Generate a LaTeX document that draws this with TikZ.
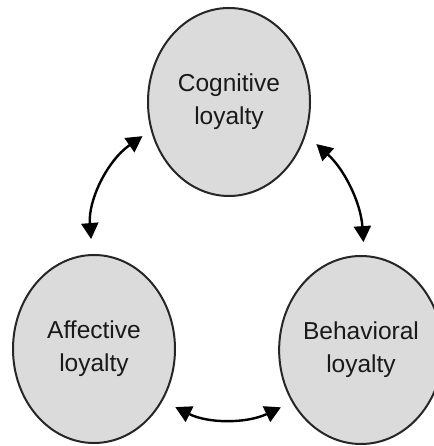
\documentclass[tikz,border=0pt]{standalone}
\usepackage{fontspec}
\setmainfont{Liberation Sans}
\usetikzlibrary{shapes.geometric,arrows.meta}
\begin{document}
\begin{tikzpicture}[
  loyal/.style={ellipse,draw=black!85,line width=2pt,fill=black!14,minimum width=162pt,minimum height=188pt,inner sep=0pt,align=center,font=\fontsize{24.5}{33}\selectfont,text=black!90},
  headtip/.tip={Triangle[length=16pt,width=17pt]},
  link/.style={line width=2.4pt,draw=black,headtip-headtip}]
\useasboundingbox (0pt,0pt) rectangle (433pt,446pt);
\fill[white] (0pt,0pt) rectangle (433pt,446pt);
\node[loyal] (cog) at (229pt,344pt) {Cognitive\\loyalty};
\node[loyal] (aff) at (94pt,97pt) {Affective\\loyalty};
\node[loyal] (beh) at (361pt,96pt) {Behavioral\\loyalty};
\draw[link, shorten <=15pt, shorten >=10pt] (aff.91) to[bend left=30] (cog.200);
\draw[link, shorten <=14pt, shorten >=13pt] (cog.337) to[bend left=22] (beh.88);
\draw[link, shorten <=14pt, shorten >=12pt] (aff.323) to[bend right=26] (beh.217);
\end{tikzpicture}
\end{document}
